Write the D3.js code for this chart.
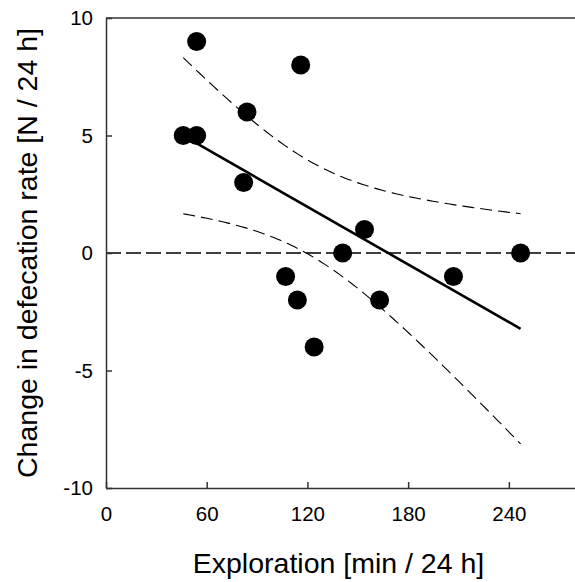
<!DOCTYPE html>
<html>
<head>
<meta charset="utf-8">
<script src="https://cdn.jsdelivr.net/npm/d3@7"></script>
<style>
  body { margin: 0; background: #fff; }
  svg text { font-family: "Liberation Sans", Arial, sans-serif; fill: #000; }
  .axis path, .axis line { stroke: #333; stroke-width: 1.5; }
  .axis text { font-size: 20.5px; }
</style>
</head>
<body>
<svg id="plot" width="575" height="582"></svg>
<script>
// data
const explorationMin = [46, 54, 54, 84, 82, 116, 107, 114, 124, 141, 154, 163, 207, 247];
const defecationChange = [5, 5, 9, 6, 3, 8, -1, -2, -4, 0, 1, -2, -1, 0];
const xTicks = [0, 60, 120, 180, 240];
const yTicks = [-10, -5, 0, 5, 10];

const svg = d3.select("svg#plot");
const width = +svg.attr("width");

const margins = { top: 18, bottom: 94, left: 106, right: -1 };
const plotBottom = 582 - margins.bottom;

const xScale = d3.scaleLinear().domain([0, 280]).range([margins.left, width - margins.right]);
const yScale = d3.scaleLinear().domain([-10, 10]).range([plotBottom, margins.top]);

// least squares fit + 95% confidence band
const n = explorationMin.length;
const mx = d3.mean(explorationMin);
const my = d3.mean(defecationChange);
let sxx = 0, sxy = 0;
explorationMin.forEach((x, i) => {
  sxx += (x - mx) * (x - mx);
  sxy += (x - mx) * (defecationChange[i] - my);
});
const slope = sxy / sxx;
const icpt = my - slope * mx;
let sse = 0;
explorationMin.forEach((x, i) => {
  const r = defecationChange[i] - (icpt + slope * x);
  sse += r * r;
});
const s = Math.sqrt(sse / (n - 2));
const tCrit = 2.179; // t(0.975, df = 12)

const [xMin, xMax] = d3.extent(explorationMin);
const xs = d3.range(0, 101).map(k => xMin + (xMax - xMin) * k / 100);
const band = xs.map(x => {
  const fit = icpt + slope * x;
  const half = tCrit * s * Math.sqrt(1 / n + (x - mx) * (x - mx) / sxx);
  return { x, lo: fit - half, hi: fit + half };
});

// zero reference
svg.append("line")
  .attr("x1", xScale(0)).attr("x2", width)
  .attr("y1", yScale(0)).attr("y2", yScale(0))
  .attr("stroke", "#000").attr("stroke-width", 1.7)
  .attr("stroke-dasharray", "15,5");

const line = d3.line().x(d => xScale(d[0])).y(d => yScale(d[1]));

["lo", "hi"].forEach(k => {
  svg.append("path")
    .attr("d", line(band.map(d => [d.x, d[k]])))
    .attr("fill", "none")
    .attr("stroke", "#000").attr("stroke-width", 1.1)
    .attr("stroke-dasharray", "12,6");
});

svg.append("path")
  .attr("d", line([[xMin, icpt + slope * xMin], [xMax, icpt + slope * xMax]]))
  .attr("fill", "none")
  .attr("stroke", "#000").attr("stroke-width", 2.6);

// axes (plain hyphen for negatives, like the original)
const xAxis = d3.axisBottom(xScale).tickValues(xTicks).tickSizeInner(-6).tickSizeOuter(0).tickPadding(18)
  .tickFormat(d => String(d));
const yAxis = d3.axisLeft(yScale).tickValues(yTicks).tickSizeInner(-6).tickSizeOuter(0).tickPadding(13)
  .tickFormat(d => String(d));

svg.append("g").attr("class", "axis")
  .attr("transform", `translate(0,${plotBottom})`)
  .call(xAxis);

svg.append("g").attr("class", "axis")
  .attr("transform", `translate(${margins.left},0)`)
  .call(yAxis);

// top frame line
svg.append("line")
  .attr("x1", margins.left).attr("x2", width)
  .attr("y1", margins.top).attr("y2", margins.top)
  .attr("stroke", "#333").attr("stroke-width", 1.5);

// points
svg.selectAll("circle.pt")
  .data(explorationMin)
  .join("circle")
  .attr("class", "pt")
  .attr("cx", d => xScale(d))
  .attr("cy", (d, i) => yScale(defecationChange[i]))
  .attr("r", 9.5)
  .attr("fill", "#000");

// titles
svg.append("text")
  .attr("x", (xScale(0) + width) / 2 - 2)
  .attr("y", 573)
  .attr("text-anchor", "middle")
  .style("font-size", "28.5px")
  .text("Exploration [min / 24 h]");

svg.append("text")
  .attr("transform", `translate(37,${(margins.top + plotBottom) / 2}) rotate(-90)`)
  .attr("text-anchor", "middle")
  .style("font-size", "28.5px")
  .text("Change in defecation rate [N / 24 h]");
</script>
</body>
</html>
